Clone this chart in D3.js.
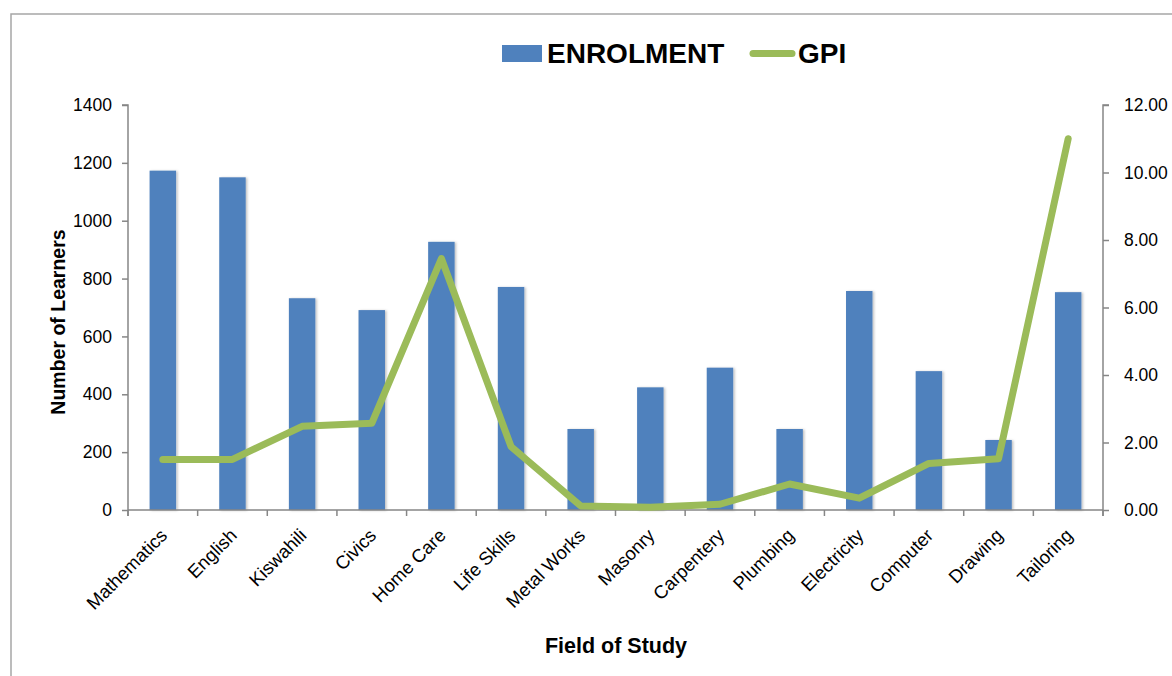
<!DOCTYPE html>
<html>
<head>
<meta charset="utf-8">
<script src="https://cdn.jsdelivr.net/npm/d3@7"></script>
<style>
  html, body { margin: 0; padding: 0; background: #fff; }
  svg { display: block; font-family: "Liberation Sans", Arial, sans-serif; }
</style>
</head>
<body>
<svg id="chart" width="1172" height="676"></svg>
<script>
// Fields of study along the x axis
const categories = ["Mathematics", "English", "Kiswahili", "Civics", "Home Care", "Life Skills",
  "Metal Works", "Masonry", "Carpentery", "Plumbing", "Electricity", "Computer", "Drawing", "Tailoring"];

// Number of learners enrolled in each field (bars, left axis)
const enrolment = [1173, 1150, 732, 691, 927, 771, 280, 424, 492, 280, 757, 480, 242, 753];

// Gender parity index for each field (line, right axis)
const gpi = [1.50, 1.50, 2.48, 2.57, 7.45, 1.88, 0.12, 0.08, 0.17, 0.77, 0.35, 1.38, 1.52, 11.0];

// Axis ticks
const leftTicks = [0, 200, 400, 600, 800, 1000, 1200, 1400];
const rightTicks = [0, 2, 4, 6, 8, 10, 12];

const svg = d3.select("#chart");
const plotLeft = 128, plotRight = 1103, plotTop = 105, plotBottom = 510;
const axisColor = "#868686";
const barColor = "#4F81BD";
const lineColor = "#9BBB59";

// outer frame
svg.append("rect")
  .attr("x", 11).attr("y", 14).attr("width", 1300).attr("height", 800)
  .attr("fill", "none").attr("stroke", "#a6a6a6").attr("stroke-width", 1.5);

const defs = svg.append("defs");
const shadow = defs.append("filter").attr("id", "barShadow")
  .attr("x", "-30%").attr("y", "-5%").attr("width", "160%").attr("height", "110%");
shadow.append("feDropShadow").attr("dx", 1.5).attr("dy", 0.5).attr("stdDeviation", 1)
  .attr("flood-color", "#000").attr("flood-opacity", 0.25);

const x = d3.scaleBand().domain(categories).range([plotLeft, plotRight]).padding(0);
const yL = d3.scaleLinear().domain([0, 1400]).range([plotBottom, plotTop]);
const yR = d3.scaleLinear().domain([0, 12]).range([plotBottom, plotTop]);

// bars
const barW = x.bandwidth() * 0.38;
svg.append("g").selectAll("rect")
  .data(categories)
  .join("rect")
  .attr("x", (d) => x(d) + (x.bandwidth() - barW) / 2)
  .attr("y", (d, i) => yL(enrolment[i]))
  .attr("width", barW)
  .attr("height", (d, i) => yL(0) - yL(enrolment[i]))
  .attr("fill", barColor)
  .attr("filter", "url(#barShadow)");

// left axis
const gL = svg.append("g").attr("transform", `translate(${plotLeft},0)`)
  .call(d3.axisLeft(yL).tickValues(leftTicks).tickSize(6).tickPadding(10).tickFormat(d3.format("d")));
gL.select(".domain").attr("stroke", axisColor).attr("stroke-width", 1.5).attr("d", `M-6,${plotTop}H0V${plotBottom + 6}`);
gL.selectAll(".tick line").attr("stroke", axisColor).attr("stroke-width", 1.5);
gL.selectAll(".tick text").attr("font-size", 17.5).attr("fill", "#000")
  .attr("font-family", "'Liberation Sans', Arial, sans-serif");

// right axis
const gR = svg.append("g").attr("transform", `translate(${plotRight},0)`)
  .call(d3.axisRight(yR).tickValues(rightTicks).tickSize(6).tickPadding(15).tickFormat(d3.format(".2f")));
gR.select(".domain").attr("stroke", axisColor).attr("stroke-width", 1.5).attr("d", `M6,${plotTop}H0V${plotBottom + 6}`);
gR.selectAll(".tick line").attr("stroke", axisColor).attr("stroke-width", 1.5);
gR.selectAll(".tick text").attr("font-size", 17.5).attr("fill", "#000")
  .attr("font-family", "'Liberation Sans', Arial, sans-serif");

// bottom axis with ticks on category boundaries
const gB = svg.append("g");
gB.append("line").attr("x1", plotLeft).attr("x2", plotRight).attr("y1", plotBottom).attr("y2", plotBottom)
  .attr("stroke", axisColor).attr("stroke-width", 1.5);
gB.selectAll("line.tick")
  .data(d3.range(categories.length + 1))
  .join("line")
  .attr("class", "tick")
  .attr("x1", (i) => plotLeft + i * x.step()).attr("x2", (i) => plotLeft + i * x.step())
  .attr("y1", plotBottom).attr("y2", plotBottom + 6)
  .attr("stroke", axisColor).attr("stroke-width", 1.5);

gB.selectAll("text")
  .data(categories)
  .join("text")
  .attr("transform", (d) => `translate(${x(d) + x.bandwidth() / 2 + 1},${plotBottom + 22}) rotate(-45)`)
  .attr("text-anchor", "end")
  .attr("dy", "0.35em")
  .attr("font-size", 18.5)
  .attr("fill", "#000")
  .text((d) => d);

// GPI line
const line = d3.line()
  .x((d, i) => x(categories[i]) + x.bandwidth() / 2)
  .y((d) => yR(d));
svg.append("path")
  .datum(gpi)
  .attr("d", line)
  .attr("fill", "none")
  .attr("stroke", lineColor)
  .attr("stroke-width", 7)
  .attr("stroke-linecap", "round")
  .attr("stroke-linejoin", "round");

// axis titles
svg.append("text")
  .attr("x", 616).attr("y", 653)
  .attr("text-anchor", "middle")
  .attr("font-weight", "bold").attr("font-size", 21.5)
  .text("Field of Study");

svg.append("text")
  .attr("transform", "translate(65,322) rotate(-90)")
  .attr("text-anchor", "middle")
  .attr("font-weight", "bold").attr("font-size", 19.5)
  .text("Number of Learners");

// legend
const legend = svg.append("g");
legend.append("rect").attr("x", 502).attr("y", 45).attr("width", 40).attr("height", 17).attr("fill", barColor);
legend.append("text").attr("x", 547).attr("y", 63)
  .attr("font-weight", "bold").attr("font-size", 28).text("ENROLMENT");
legend.append("line").attr("x1", 753).attr("x2", 792).attr("y1", 53.5).attr("y2", 53.5)
  .attr("stroke", lineColor).attr("stroke-width", 7).attr("stroke-linecap", "round");
legend.append("text").attr("x", 798).attr("y", 63)
  .attr("font-weight", "bold").attr("font-size", 28).text("GPI");
</script>
</body>
</html>
